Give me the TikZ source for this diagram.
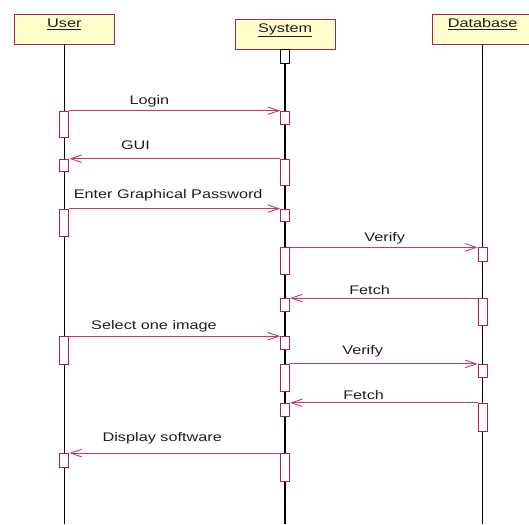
\documentclass[tikz,border=0pt]{standalone}
\usepackage{fontspec}
\setmainfont{Liberation Sans}[FakeStretch=1.3]
\usetikzlibrary{arrows.meta,positioning}
\definecolor{rosebd}{HTML}{B0204A}
\definecolor{rosemsg}{HTML}{C03A6A}
\definecolor{headbg}{HTML}{FFFFCC}
\definecolor{inkgray}{HTML}{1E1E1E}
\tikzset{
  head/.style={draw=rosebd,fill=headbg,line width=1pt,
               minimum width=100pt,minimum height=30pt,inner sep=0pt,anchor=north},
  headtxt/.style={font=\fontsize{12.5}{14}\selectfont,inkgray,inner sep=0pt,anchor=base},
  life/.style={line width=1.6pt,black},
  act/.style={draw=rosebd,fill=white,line width=0.9pt,minimum width=9pt,
              inner sep=0pt,anchor=north},
  msg/.style={-{Straight Barb[length=11pt,width=7.5pt]},line width=0.9pt,rosemsg},
  msgtxt/.style={font=\fontsize{12.5}{14}\selectfont,inkgray,inner sep=0pt,anchor=base},
}
\begin{document}
\begin{tikzpicture}[x=1pt,y=-1pt]
  \useasboundingbox (0,0) rectangle (529,524);
  \clip (0,0) rectangle (529,524);

  % ---- Lifeline heads ----
  \node[head] (user) at (64.3,14.2) {};
  \node[head] (sys) at (285.1,18.8) {};
  \node[head] (db) at (482.6,14.2) {};
  \node[headtxt] (usertxt) at ([yshift=-13.6pt]user.north) {\underline{User}};
  \node[headtxt] (systxt) at ([yshift=-13.6pt]sys.north) {\underline{System}};
  \node[headtxt] (dbtxt) at ([yshift=-13.6pt]db.north) {\underline{Database}};

  % ---- Lifelines ----
  \coordinate (uend) at (64.3,524);
  \coordinate (send) at (285.1,524);
  \coordinate (dend) at (482.6,524);
  \draw[life] (user.south) -- (uend);
  \draw[life] (sys.south) -- (send);
  \draw[life] (db.south) -- (dend);

  % ---- Activations: User ----
  \node[act,minimum height=26pt] (u1) at (64.3,110.7) {};
  \node[act,minimum height=12.5pt] (u2) at (64.3,158.7) {};
  \node[act,minimum height=27pt] (u3) at (64.3,208.6) {};
  \node[act,minimum height=27.4pt] (u4) at (64.3,336.2) {};
  \node[act,minimum height=13.8pt] (u5) at (64.3,453.1) {};

  % ---- Activations: System ----
  \node[act,draw=black,minimum height=13.8pt] (s0) at (285.1,49.3) {};
  \node[act,minimum height=13.5pt] (s1) at (285.1,110.7) {};
  \node[act,minimum height=26.3pt] (s2) at (285.1,158.7) {};
  \node[act,minimum height=12.8pt] (s3) at (285.1,208.6) {};
  \node[act,minimum height=26.1pt] (s4) at (285.1,247.4) {};
  \node[act,minimum height=12.9pt] (s5) at (285.1,298.1) {};
  \node[act,minimum height=13.2pt] (s6) at (285.1,336.2) {};
  \node[act,minimum height=27pt] (s7) at (285.1,363.9) {};
  \node[act,minimum height=13.5pt] (s8) at (285.1,402.8) {};
  \node[act,minimum height=28pt] (s9) at (285.1,453.1) {};

  % ---- Activations: Database ----
  \node[act,minimum height=13.1pt] (d1) at (482.6,247.4) {};
  \node[act,minimum height=27pt] (d2) at (482.6,298.1) {};
  \node[act,minimum height=13.2pt] (d3) at (482.6,363.9) {};
  \node[act,minimum height=27.7pt] (d4) at (482.6,402.8) {};

  % ---- Messages ----
  \draw[msg] (u1.north east) -- node[msgtxt,pos=0.38,yshift=6.7pt]{Login} (s1.north west);
  \draw[msg] (s2.north west) -- node[msgtxt,pos=0.686,yshift=9pt]{GUI} (u2.north east);
  \draw[msg] (u3.north east) -- node[msgtxt,pos=0.469,yshift=10pt]{Enter Graphical Password} (s3.north west);
  \draw[msg] (s4.north east) -- node[msgtxt,pos=0.505,yshift=5.6pt]{Verify} (d1.north west);
  \draw[msg] (d2.north west) -- node[msgtxt,pos=0.576,yshift=3.2pt]{Fetch} (s5.north east);
  \draw[msg] (u4.north east) -- node[msgtxt,pos=0.402,yshift=6.9pt]{Select one image} (s6.north west);
  \draw[msg] (s7.north east) -- node[msgtxt,pos=0.387,yshift=9pt]{Verify} (d3.north west);
  \draw[msg] (d4.north west) -- node[msgtxt,pos=0.608,yshift=3.3pt]{Fetch} (s8.north east);
  \draw[msg] (s9.north west) -- node[msgtxt,pos=0.559,yshift=11.4pt]{Display software} (u5.north east);
\end{tikzpicture}
\end{document}
